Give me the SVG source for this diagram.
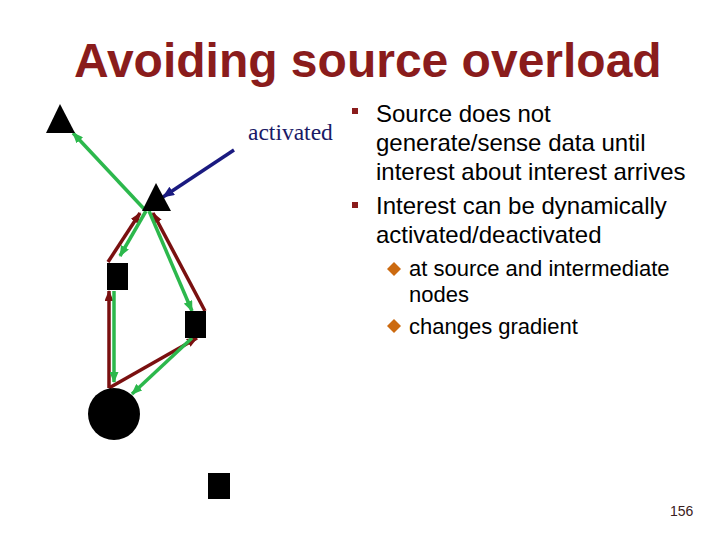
<svg xmlns="http://www.w3.org/2000/svg" width="720" height="540" viewBox="0 0 720 540">
<style>
.title{font-family:"Liberation Sans",Arial,sans-serif;font-weight:bold;font-size:48px;fill:#8a1c1c}
.body{font-family:"Liberation Sans",Arial,sans-serif;font-size:24px;fill:#000}
.sub{font-family:"Liberation Sans",Arial,sans-serif;font-size:22px;fill:#000}
.lbl{font-family:"Liberation Serif","Times New Roman",serif;font-size:23.5px;fill:#1a1a66}
.node{fill:#000}
.red{stroke:#7a1010;stroke-width:3.5;fill:none;marker-end:url(#mr)}
.grn{stroke:#2cb84c;stroke-width:3.5;fill:none;marker-end:url(#mg)}
.blu{stroke:#1a1a80;stroke-width:3.5;fill:none;marker-end:url(#mb)}
.bul{fill:#8a1c1c}
.dia{fill:#cc6a10}
</style>
<defs>
<marker id="mr" markerUnits="userSpaceOnUse" markerWidth="11" markerHeight="9" refX="10" refY="4.5" orient="auto"><path d="M0,0 L11,4.5 L0,9 z" fill="#7a1010"/></marker>
<marker id="mg" markerUnits="userSpaceOnUse" markerWidth="11" markerHeight="9" refX="10" refY="4.5" orient="auto"><path d="M0,0 L11,4.5 L0,9 z" fill="#2cb84c"/></marker>
<marker id="mb" markerUnits="userSpaceOnUse" markerWidth="12" markerHeight="10" refX="11" refY="5" orient="auto"><path d="M0,0 L12,5 L0,10 z" fill="#1a1a80"/></marker>
</defs>
<rect width="720" height="540" fill="#fff"/>
<text class="title" x="74" y="77">Avoiding source overload</text>

<g id="connectors">
<line class="red" x1="108" y1="262" x2="140" y2="213"/>
<line class="red" x1="205" y1="311" x2="153" y2="213"/>
<line class="red" x1="109" y1="388" x2="109" y2="291"/>
<line class="red" x1="109" y1="388" x2="197" y2="338"/>
<line class="grn" x1="146" y1="211" x2="73" y2="133"/>
<line class="grn" x1="146" y1="211" x2="120" y2="256"/>
<line class="grn" x1="149" y1="211" x2="192" y2="311"/>
<line class="grn" x1="114" y1="291" x2="114" y2="382"/>
<line class="grn" x1="192" y1="338" x2="132" y2="394"/>
<line class="blu" x1="234" y1="150" x2="163" y2="197"/>
</g>

<g id="sink-top"><polygon class="node" points="60,104 46,133 75,133"/></g>
<g id="source"><polygon class="node" points="156,183 142,211 171,211"/></g>
<g id="n1"><rect class="node" x="107" y="263" width="21" height="27"/></g>
<g id="n2"><rect class="node" x="185" y="311" width="21" height="27"/></g>
<g id="sink"><circle class="node" cx="114" cy="414" r="26"/></g>
<g id="n3"><rect class="node" x="208" y="473" width="22" height="26"/></g>

<g id="label"><text class="lbl" x="248" y="140">activated</text></g>

<g id="bullets">
<rect class="bul" x="352" y="108" width="6" height="6"/>
<text class="body" x="376" y="122">Source does not</text>
<text class="body" x="376" y="151">generate/sense data until</text>
<text class="body" x="376" y="180">interest about interest arrives</text>
<rect class="bul" x="352" y="202" width="6" height="6"/>
<text class="body" x="376" y="214">Interest can be dynamically</text>
<text class="body" x="376" y="243">activated/deactivated</text>
<polygon class="dia" points="394,262 401,269 394,276 387,269"/>
<text class="sub" x="409" y="276">at source and intermediate</text>
<text class="sub" x="409" y="302">nodes</text>
<polygon class="dia" points="394,319 401,326 394,333 387,326"/>
<text class="sub" x="409" y="334">changes gradient</text>
</g>
<text x="670" y="516" font-family="Liberation Sans,Arial,sans-serif" font-size="14" fill="#3a2020">156</text>
</svg>
